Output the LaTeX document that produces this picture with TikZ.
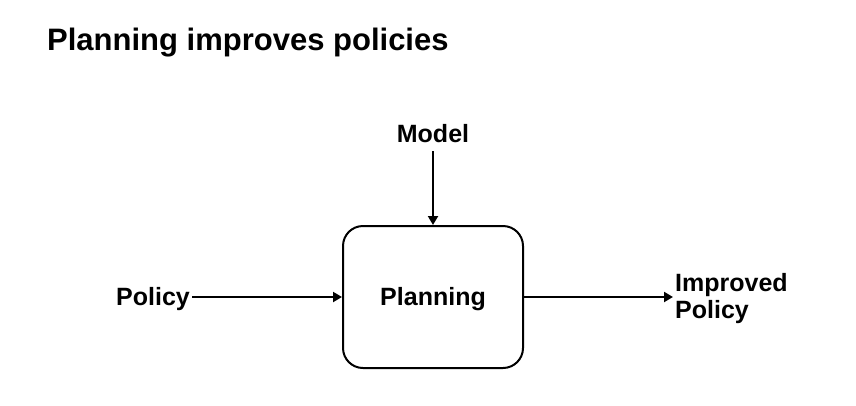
\documentclass[tikz,border=0pt]{standalone}
\usepackage{fontspec}
\setmainfont{Liberation Sans}
\usetikzlibrary{arrows.meta}
\begin{document}
\begin{tikzpicture}[x=1pt,y=-1pt,
  lbl/.style={font=\fontsize{25}{27}\selectfont\bfseries, inner sep=0pt},
  conn/.style={line width=2pt, -{Triangle[length=9pt,width=10pt]}},
  box/.style={draw, line width=2pt, rounded corners=20pt, minimum width=180pt, minimum height=142pt, inner sep=0pt}]
\useasboundingbox (0,0) rectangle (856,405);
\node[font=\fontsize{31}{33}\selectfont\bfseries, anchor=base west, inner sep=0pt] (title) at (47,50) {Planning improves policies};
\node[box] (plan) at (433,297) {};
\node[lbl] (plantext) at (433,299) {Planning};
\node[lbl] (model) at (433,134) {Model};
\node[lbl, anchor=east] (policy) at (190,299) {Policy};
\node[lbl, anchor=west, align=left] (impr) at (675,299) {Improved\\Policy};
\draw[conn] (model.south |- 0,151) -- (plan.north);
\draw[conn] (policy.east |- plan.west) ++(2,0) -- (plan.west);
\draw[conn] (plan.east) -- ++(149,0) coordinate (imprend);
\end{tikzpicture}
\end{document}
